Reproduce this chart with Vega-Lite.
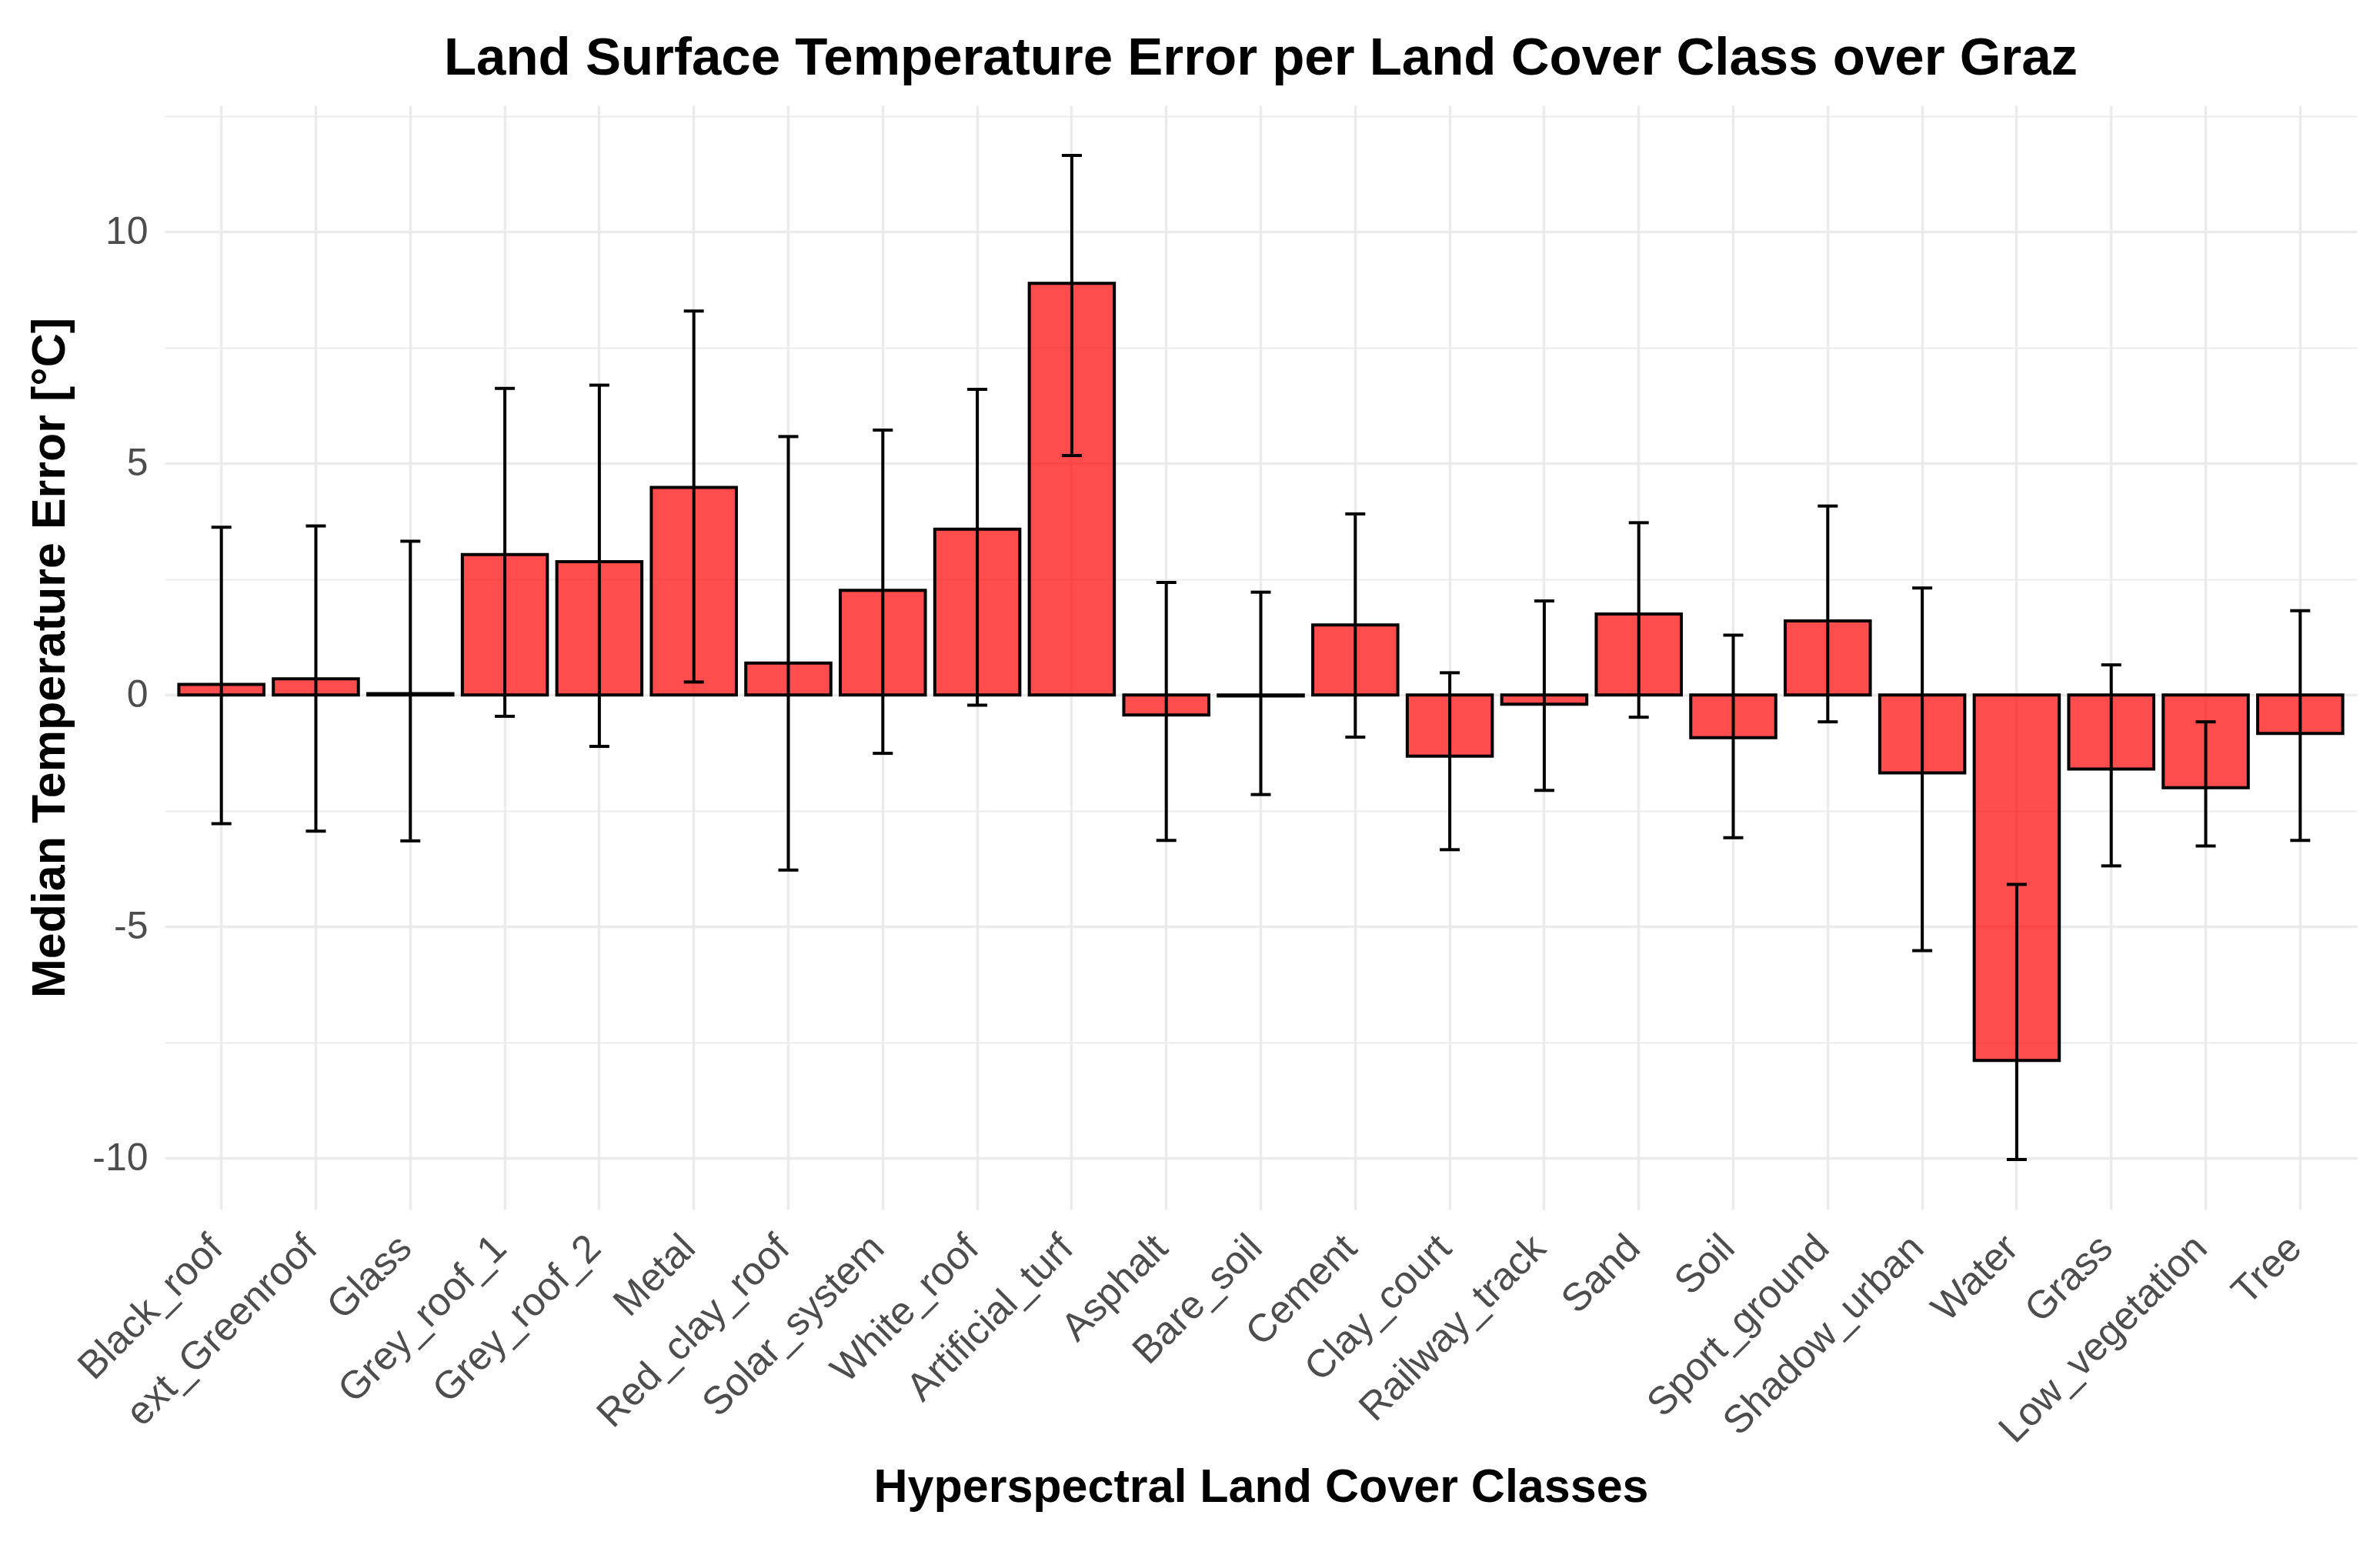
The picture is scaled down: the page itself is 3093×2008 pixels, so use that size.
{
  "$schema": "https://vega.github.io/schema/vega-lite/v6.json",
  "width": 2849,
  "height": 1435,
  "autosize": {"type": "none"},
  "padding": {"left": 214, "top": 137, "right": 30, "bottom": 436},
  "background": "white",
  "config": {"view": {"stroke": null}, "font": "Liberation Sans"},
  "title": {
    "text": "Land Surface Temperature Error per Land Cover Class over Graz",
    "fontSize": 69,
    "font": "Liberation Sans",
    "fontWeight": "bold",
    "color": "black",
    "anchor": "middle",
    "offset": 26
  },
  "data": {
    "values": [
      {"class": "Black_roof", "median": 0.23, "lo": -2.78, "hi": 3.62},
      {"class": "ext_Greenroof", "median": 0.35, "lo": -2.94, "hi": 3.65},
      {"class": "Glass", "median": 0.03, "lo": -3.15, "hi": 3.32},
      {"class": "Grey_roof_1", "median": 3.03, "lo": -0.46, "hi": 6.62},
      {"class": "Grey_roof_2", "median": 2.88, "lo": -1.11, "hi": 6.69},
      {"class": "Metal", "median": 4.48, "lo": 0.28, "hi": 8.29},
      {"class": "Red_clay_roof", "median": 0.69, "lo": -3.78, "hi": 5.58},
      {"class": "Solar_system", "median": 2.26, "lo": -1.26, "hi": 5.72},
      {"class": "White_roof", "median": 3.58, "lo": -0.22, "hi": 6.6},
      {"class": "Artificial_turf", "median": 8.89, "lo": 5.17, "hi": 11.65},
      {"class": "Asphalt", "median": -0.43, "lo": -3.14, "hi": 2.43},
      {"class": "Bare_soil", "median": -0.02, "lo": -2.15, "hi": 2.22},
      {"class": "Cement", "median": 1.51, "lo": -0.91, "hi": 3.91},
      {"class": "Clay_court", "median": -1.32, "lo": -3.34, "hi": 0.48},
      {"class": "Railway_track", "median": -0.2, "lo": -2.06, "hi": 2.03},
      {"class": "Sand", "median": 1.75, "lo": -0.48, "hi": 3.72},
      {"class": "Soil", "median": -0.92, "lo": -3.08, "hi": 1.29},
      {"class": "Sport_ground", "median": 1.6, "lo": -0.58, "hi": 4.08},
      {"class": "Shadow_urban", "median": -1.68, "lo": -5.52, "hi": 2.31},
      {"class": "Water", "median": -7.89, "lo": -10.03, "hi": -4.09},
      {"class": "Grass", "median": -1.6, "lo": -3.69, "hi": 0.65},
      {"class": "Low_vegetation", "median": -2.0, "lo": -3.26, "hi": -0.58},
      {"class": "Tree", "median": -0.83, "lo": -3.14, "hi": 1.82}
    ]
  },
  "encoding": {
    "x": {
      "field": "class",
      "type": "nominal",
      "sort": null,
      "scale": {"paddingInner": 0.1, "paddingOuter": 0.15},
      "axis": {
        "title": "Hyperspectral Land Cover Classes",
        "titleFontSize": 61,
        "titleFontWeight": "bold",
        "titleColor": "black",
        "titleFont": "Liberation Sans",
        "titleY": 361,
        "titleBaseline": "middle",
        "labelAngle": -45,
        "labelAlign": "right",
        "labelBaseline": "middle",
        "labelFontSize": 51,
        "labelFont": "Liberation Sans",
        "labelColor": "#4D4D4D",
        "labelPadding": 42,
        "labelOffset": -6,
        "labelLimit": 0,
        "labelOverlap": false,
        "ticks": false,
        "domain": false,
        "grid": true,
        "gridColor": "#EBEBEB",
        "gridWidth": 3.5,
        "bandPosition": 0.5
      }
    }
  },
  "layer": [
    {
      "mark": {"type": "bar", "fill": "#FF0000", "fillOpacity": 0.7, "stroke": "black", "strokeWidth": 4},
      "encoding": {
        "y": {
          "field": "median",
          "type": "quantitative",
          "scale": {"domain": [-11.11, 12.73], "nice": false, "zero": false},
          "axis": {
            "title": "Median Temperature Error [°C]",
            "titleFontSize": 61,
            "titleFontWeight": "bold",
            "titleColor": "black",
            "titleFont": "Liberation Sans",
            "titleX": -149,
            "titleBaseline": "middle",
            "values": [-10, -7.5, -5, -2.5, 0, 2.5, 5, 7.5, 10, 12.5],
            "labelExpr": "datum.value % 5 === 0 ? '' + datum.value : ''",
            "labelFontSize": 50,
            "labelFont": "Liberation Sans",
            "labelColor": "#4D4D4D",
            "labelPadding": 22,
            "ticks": false,
            "domain": false,
            "grid": true,
            "gridColor": "#EBEBEB",
            "gridWidth": {"condition": {"test": "datum.value % 5 === 0", "value": 3.7}, "value": 2}
          }
        },
        "y2": {"datum": 0}
      }
    },
    {
      "mark": {"type": "rule", "color": "black", "strokeWidth": 4},
      "encoding": {
        "y": {"field": "lo", "type": "quantitative"},
        "y2": {"field": "hi"}
      }
    },
    {
      "mark": {"type": "tick", "color": "black", "size": 26, "thickness": 4, "opacity": 1},
      "encoding": {"y": {"field": "lo", "type": "quantitative"}}
    },
    {
      "mark": {"type": "tick", "color": "black", "size": 26, "thickness": 4, "opacity": 1},
      "encoding": {"y": {"field": "hi", "type": "quantitative"}}
    }
  ]
}
